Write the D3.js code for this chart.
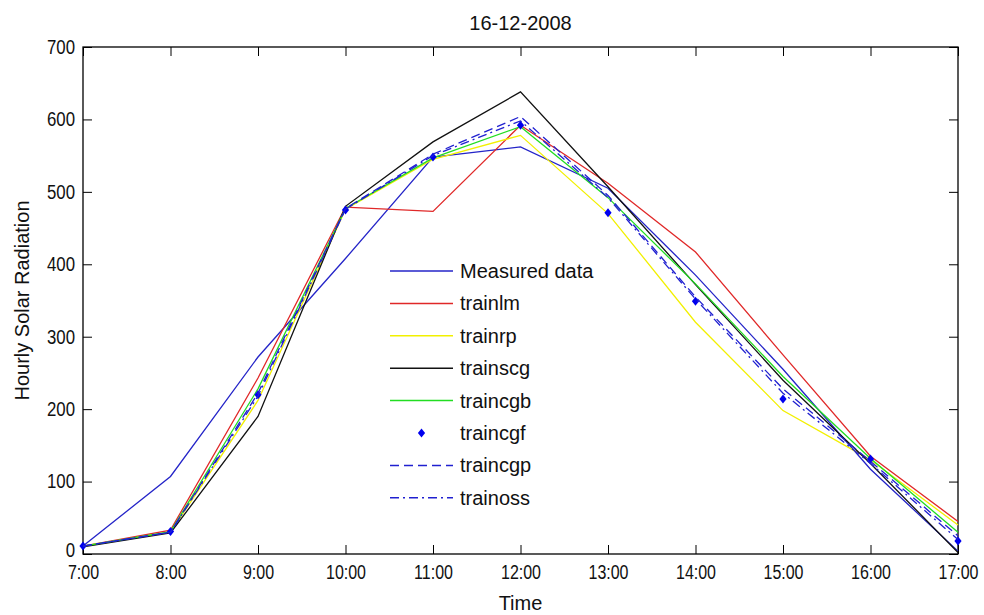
<!DOCTYPE html>
<html>
<head>
<meta charset="utf-8">
<script src="https://cdn.jsdelivr.net/npm/d3@7"></script>
<style>
  html, body { margin: 0; padding: 0; background: #fff; }
  svg { display: block; font-family: "Liberation Sans", Arial, Helvetica, sans-serif; }
</style>
</head>
<body>
<svg id="chart" width="984" height="615"></svg>
<script>
// Hourly solar radiation for 16-12-2008: measured values and network outputs
const hours = ["7:00", "8:00", "9:00", "10:00", "11:00", "12:00", "13:00", "14:00", "15:00", "16:00", "17:00"];
const yTicks = [0, 100, 200, 300, 400, 500, 600, 700];

const measured = [11, 107, 272, 408, 548, 562, 505, 385, 255, 117, 4];
const trainlm  = [11, 33, 243, 479, 473, 592, 512, 417, 275, 135, 45];
const trainrp  = [11, 30, 212, 476, 545, 578, 470, 320, 198, 130, 40];
const trainscg = [10, 29, 190, 480, 569, 638, 507, 372, 240, 125, 2];
const traincgb = [11, 31, 228, 477, 547, 590, 492, 373, 245, 132, 30];
const traincgf = [11, 31, 220, 475, 548, 592, 471, 349, 214, 131, 18];
const traincgp = [11, 30, 222, 477, 552, 604, 495, 355, 228, 128, 25];
const trainoss = [11, 30, 218, 476, 550, 598, 492, 352, 222, 125, 20];

const seriesNames = ["Measured data", "trainlm", "trainrp", "trainscg", "traincgb", "traincgf", "traincgp", "trainoss"];

const series = [
  { name: seriesNames[0], values: measured, color: "#2424c8", dash: null, marker: false },
  { name: seriesNames[1], values: trainlm,  color: "#e02828", dash: null, marker: false },
  { name: seriesNames[2], values: trainrp,  color: "#f2f000", dash: null, marker: false },
  { name: seriesNames[3], values: trainscg, color: "#111111", dash: null, marker: false },
  { name: seriesNames[4], values: traincgb, color: "#22dd22", dash: null, marker: false },
  { name: seriesNames[5], values: traincgf, color: "#0000ee", dash: null, marker: true },
  { name: seriesNames[6], values: traincgp, color: "#2020d0", dash: "9,5", marker: false },
  { name: seriesNames[7], values: trainoss, color: "#2020d0", dash: "9,4,2,4", marker: false }
];

const plotLeft = 83, plotRight = 958, plotTop = 47, plotBottom = 554;
const svg = d3.select("#chart");

const x = d3.scalePoint().domain(hours).range([plotLeft, plotRight]);
const y = d3.scaleLinear().domain([0, 700]).range([plotBottom, plotTop]);

// compress text horizontally to a narrow face
function condense(sel, f) {
  sel.each(function () {
    const w = this.getComputedTextLength();
    this.setAttribute("textLength", w * f);
    this.setAttribute("lengthAdjust", "spacingAndGlyphs");
  });
}

// small filled diamond marker
const diamond = "M0,-4.5L3.6,0L0,4.5L-3.6,0Z";

// axes with inward ticks on all four sides
const gx = svg.append("g").attr("transform", `translate(0,${plotBottom})`)
  .call(d3.axisBottom(x).tickSizeInner(-9).tickSizeOuter(0).tickPadding(11));
const gxTop = svg.append("g").attr("transform", `translate(0,${plotTop})`)
  .call(d3.axisTop(x).tickSizeInner(-9).tickSizeOuter(0).tickFormat(""));
const gy = svg.append("g").attr("transform", `translate(${plotLeft},0)`)
  .call(d3.axisLeft(y).tickValues(yTicks).tickSizeInner(-9).tickSizeOuter(0).tickPadding(8));
const gyRight = svg.append("g").attr("transform", `translate(${plotRight},0)`)
  .call(d3.axisRight(y).tickValues(yTicks).tickSizeInner(-9).tickSizeOuter(0).tickFormat(""));

[gx, gxTop, gy, gyRight].forEach(g => {
  g.select(".domain").remove();
  g.selectAll(".tick line").attr("stroke", "#000").attr("stroke-width", 1);
});
gx.selectAll(".tick text").attr("font-size", 20).attr("fill", "#111").attr("font-family", "Liberation Sans, Arial, sans-serif");
gy.selectAll(".tick text").attr("font-size", 20).attr("fill", "#111").attr("font-family", "Liberation Sans, Arial, sans-serif");
// the zero label sits a little above the axis line
gy.selectAll(".tick").filter(d => d === 0).select("text").attr("dy", "0.1em");
condense(gx.selectAll(".tick text"), 0.8);
condense(gy.selectAll(".tick text"), 0.84);

// frame
svg.append("rect")
  .attr("x", plotLeft).attr("y", plotTop)
  .attr("width", plotRight - plotLeft).attr("height", plotBottom - plotTop)
  .attr("fill", "none").attr("stroke", "#000").attr("stroke-width", 1.3);

// series lines
const line = d3.line().x((d, i) => x(hours[i])).y(d => y(d));
const plot = svg.append("g");
series.forEach(s => {
  if (!s.marker) {
    plot.append("path")
      .datum(s.values)
      .attr("d", line)
      .attr("fill", "none")
      .attr("stroke", s.color)
      .attr("stroke-width", 1.3)
      .attr("stroke-dasharray", s.dash);
  } else {
    plot.selectAll(null)
      .data(s.values)
      .join("path")
      .attr("d", diamond)
      .attr("transform", (d, i) => `translate(${x(hours[i])},${y(d)})`)
      .attr("fill", s.color);
  }
});

// legend
const legX0 = 390, legX1 = 453, legTextX = 460, legY0 = 271, legStep = 32.4;
const leg = svg.append("g");
series.forEach((s, i) => {
  const ly = legY0 + i * legStep;
  if (s.marker) {
    leg.append("path")
      .attr("d", diamond)
      .attr("transform", `translate(${(legX0 + legX1) / 2},${ly})`)
      .attr("fill", s.color);
  } else {
    leg.append("line")
      .attr("x1", legX0).attr("x2", legX1)
      .attr("y1", ly).attr("y2", ly)
      .attr("stroke", s.color).attr("stroke-width", 1.5)
      .attr("stroke-dasharray", s.dash);
  }
  leg.append("text")
    .attr("x", legTextX).attr("y", ly)
    .attr("dy", "0.35em")
    .attr("font-size", 20)
    .attr("fill", "#111")
    .text(s.name);
});

// title and axis labels
svg.append("text")
  .attr("x", (plotLeft + plotRight) / 2).attr("y", 30)
  .attr("text-anchor", "middle").attr("font-size", 20).attr("fill", "#111")
  .text("16-12-2008");
svg.append("text")
  .attr("x", (plotLeft + plotRight) / 2).attr("y", 610)
  .attr("text-anchor", "middle").attr("font-size", 20).attr("fill", "#111")
  .text("Time");
svg.append("text")
  .attr("transform", `translate(29,${(plotTop + plotBottom) / 2}) rotate(-90)`)
  .attr("text-anchor", "middle").attr("font-size", 20).attr("fill", "#111")
  .text("Hourly Solar Radiation");
</script>
</body>
</html>
